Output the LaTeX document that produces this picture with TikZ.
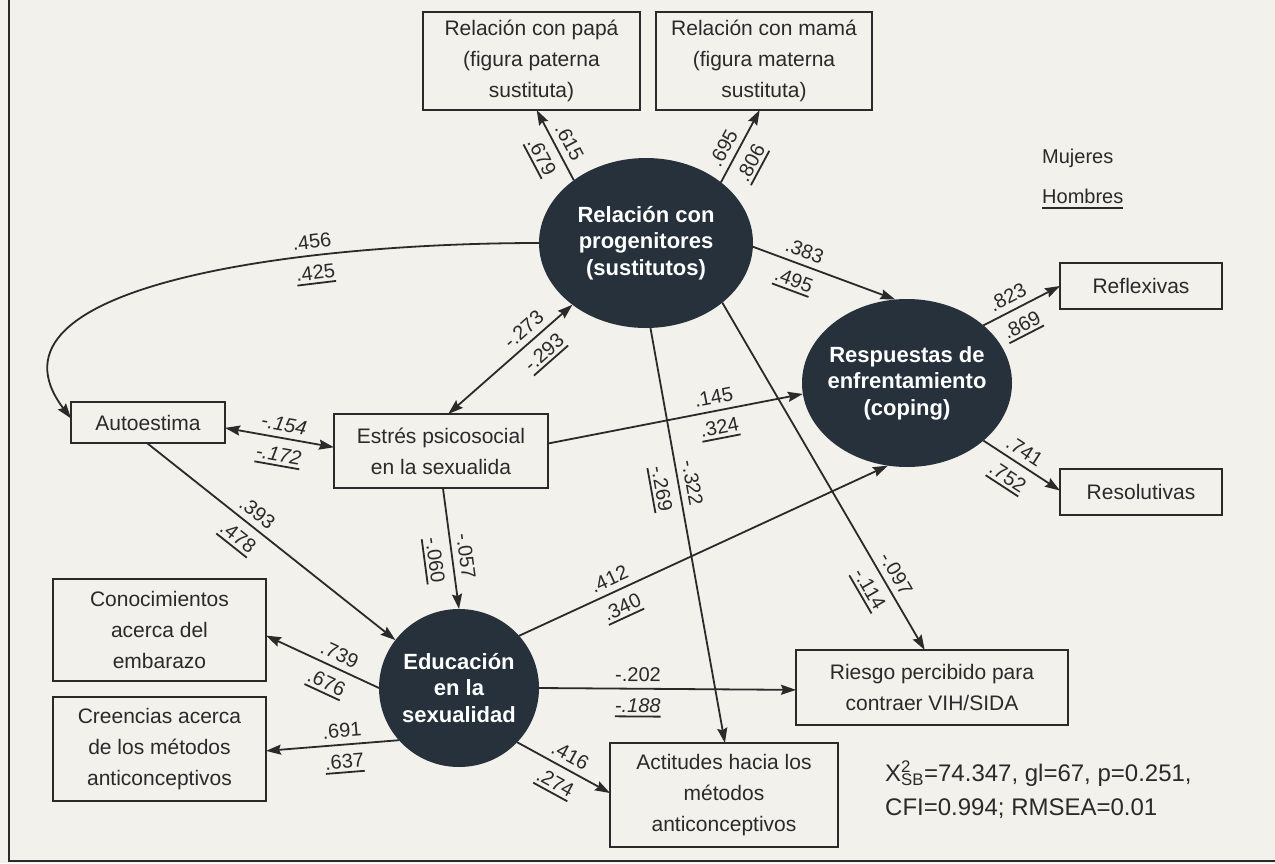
\documentclass[tikz,border=0pt]{standalone}
\usepackage{fontspec}
\setmainfont{Liberation Sans}
\usetikzlibrary{arrows.meta,shapes.geometric}
\definecolor{bg}{HTML}{F2F1EB}
\definecolor{ink}{HTML}{2A2A2A}
\definecolor{dark}{HTML}{26313C}
\newcommand{\hund}[1]{\setbox0=\hbox{#1}\leavevmode\rlap{\vrule width\wd0 height -3pt depth 4.8pt}\box0}
\begin{document}
\begin{tikzpicture}[x=1pt,y=-1pt,
  >={Stealth[length=15pt,width=10pt,inset=2pt]},
  box/.style={draw=ink, line width=1.8pt, fill=bg, rectangle, inner sep=0pt, outer sep=0pt,
    align=center, text=ink, font=\fontsize{21}{31}\selectfont},
  lat/.style={ellipse, fill=dark, draw=none, inner sep=0pt, outer sep=0pt},
  lattext/.style={text=white, align=center, font=\fontsize{22}{26.5}\selectfont\bfseries},
  conn/.style={draw=ink, line width=1.8pt, ->},
  biconn/.style={draw=ink, line width=1.8pt, <->},
  lab/.style={font=\fontsize{20}{20}\selectfont, text=ink, inner sep=1pt, sloped},
  wlab/.style={lab, above=5pt},
  mlab/.style={lab, below=8pt},
  plain/.style={text=ink, inner sep=0pt}
]
\fill[bg] (0,0) rectangle (1275,863);
\useasboundingbox (0,0) rectangle (1275,863);
\draw[ink, line width=2pt] (9,0) -- (9,861) -- (1275,861);

% boxes
\node[box, minimum width=217pt, minimum height=98pt] (papa) at (531.5,61) {Relación con papá\\(figura paterna\\sustituta)};
\node[box, minimum width=216pt, minimum height=98pt] (mama) at (764,61) {Relación con mamá\\(figura materna\\sustituta)};
\node[box, minimum width=162pt, minimum height=46pt] (refl) at (1141,286) {Reflexivas};
\node[box, minimum width=162pt, minimum height=46pt] (resol) at (1141,492) {Resolutivas};
\node[box, minimum width=154pt, minimum height=41pt] (autoest) at (148,422.5) {Autoestima};
\node[box, minimum width=214pt, minimum height=74pt] (estres) at (441,451) {Estrés psicosocial\\en la sexualida};
\node[box, minimum width=213pt, minimum height=102pt] (conoc) at (159.5,630) {Conocimientos\\acerca del\\embarazo};
\node[box, minimum width=213pt, minimum height=104pt] (creen) at (159.5,749) {Creencias acerca\\de los métodos\\anticonceptivos};
\node[box, minimum width=272pt, minimum height=75pt] (riesgo) at (932,687.5) {Riesgo percibido para\\contraer VIH/SIDA};
\node[box, minimum width=228pt, minimum height=104pt] (actit) at (724,795) {Actitudes hacia los\\métodos\\anticonceptivos};

% latent variables
\node[lat, minimum width=214pt, minimum height=170pt,
  label={[lattext]center:Relación con\\progenitores\\(sustitutos)}] (rel) at (646,243) {};
\node[lat, minimum width=210pt, minimum height=168pt,
  label={[lattext]center:Respuestas de\\enfrentamiento\\(coping)}] (resp) at (907,383) {};
\node[lat, minimum width=160pt, minimum height=158pt,
  label={[lattext]center:Educación\\en la\\sexualidad}] (edu) at (459,688) {};

% legend and fit
\node[plain, anchor=west, font=\fontsize{20}{20}\selectfont] (muj) at (1042,158) {Mujeres};
\node[plain, anchor=west, font=\fontsize{20}{20}\selectfont] (hom) at (1042,199) {\hund{Hombres}};
\node[plain, anchor=west, align=left, font=\fontsize{24}{34}\selectfont] (stats) at (885,790)
  {X\rlap{\textsuperscript{2}}\textsubscript{SB}=74.347, gl=67, p=0.251,\\CFI=0.994; RMSEA=0.01};

% connectors
\draw[conn] (rel.139) -- (papa.-84) node[wlab,pos=.45]{.615} node[mlab,pos=.45]{\hund{.679}};
\draw[conn] (rel.39) -- (mama.-95) node[wlab,pos=.38]{.695} node[mlab,pos=.38]{\hund{.806}};
\draw[conn] (rel.-2) -- (resp.98) node[wlab,pos=.33]{.383} node[mlab,pos=.33]{\hund{.495}};
\draw[conn] (resp.37) -- (refl.180) node[wlab,pos=.4]{.823} node[mlab,pos=.4]{\hund{.869}};
\draw[conn] (resp.-37) -- (resol.179) node[wlab,pos=.44]{.741} node[mlab,pos=.44]{\hund{.752}};
\draw[conn] (rel.180) .. controls (300,243) and (-30,285) .. (autoest.177)
  node[wlab,pos=.3]{.456} node[mlab,pos=.3]{\hund{.425}};
\draw[biconn] (autoest.-4) -- (estres.178) node[wlab,pos=.52]{\itshape -.154} node[mlab,pos=.52]{\hund{\itshape -.172}};
\draw[biconn] (estres.79) -- (rel.-140) node[wlab,pos=.68]{-.273} node[mlab,pos=.68]{\hund{-.293}};
\draw[conn] (estres.4) -- (resp.-174) node[wlab,pos=.66]{.145} node[mlab,pos=.66]{\hund{.324}};
\draw[conn] (rel.-87) -- (actit.89) node[wlab,pos=.38]{-.322} node[mlab,pos=.38]{\hund{-.269}};
\draw[conn] (rel.-38) -- (riesgo.101) node[wlab,pos=.8]{-.097} node[mlab,pos=.8]{\hund{-.114}};
\draw[conn] (autoest.-93) -- (edu.143) node[wlab,pos=.41]{.393} node[mlab,pos=.41]{\hund{.478}};
\draw[conn] (estres.-87) -- (edu.90) node[wlab,pos=.58]{-.057} node[mlab,pos=.58]{\hund{-.060}};
\draw[conn] (edu.41) -- (resp.-103) node[wlab,pos=.26]{.412} node[mlab,pos=.26]{\hund{.340}};
\draw[conn] (edu.0) -- (riesgo.-179) node[wlab,pos=.385]{-.202} node[mlab,pos=.385]{\hund{\itshape -.188}};
\draw[conn] (edu.-43) -- (actit.179) node[wlab,pos=.5]{.416} node[mlab,pos=.5]{\hund{.274}};
\draw[conn] (edu.180) -- (conoc.-3) node[wlab,pos=.4]{.739} node[mlab,pos=.4]{\hund{.676}};
\draw[conn] (edu.-139) -- (creen.-1) node[wlab,pos=.42]{.691} node[mlab,pos=.42]{\hund{.637}};
\end{tikzpicture}
\end{document}
